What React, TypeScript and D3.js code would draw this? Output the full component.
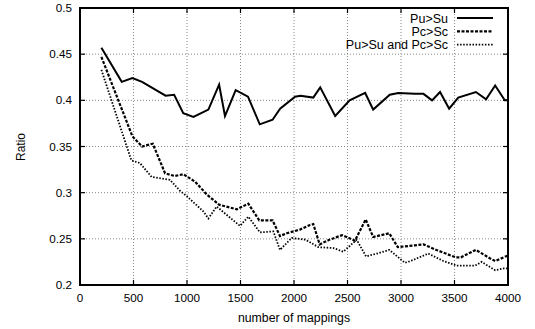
import React from "react";
import * as d3 from "d3";

// x = number of mappings, y = ratio
const puSu: [number, number][] = [
  [200, 0.457], [390, 0.42], [490, 0.424], [580, 0.42], [800, 0.405], [880, 0.406],
  [965, 0.386], [1060, 0.382], [1200, 0.39], [1300, 0.417], [1355, 0.383], [1455, 0.411],
  [1570, 0.404], [1680, 0.374], [1800, 0.379], [1870, 0.391], [2010, 0.404], [2060, 0.405],
  [2180, 0.403], [2245, 0.414], [2385, 0.383], [2520, 0.4], [2665, 0.408], [2740, 0.39],
  [2895, 0.406], [2975, 0.408], [3130, 0.407], [3210, 0.407], [3290, 0.4], [3365, 0.409],
  [3450, 0.391], [3535, 0.403], [3700, 0.409], [3795, 0.401], [3880, 0.416], [3970, 0.4],
  [4000, 0.4],
];

const pcSc: [number, number][] = [
  [200, 0.447], [490, 0.361], [580, 0.35], [680, 0.353], [795, 0.321], [885, 0.318],
  [965, 0.32], [1075, 0.312], [1185, 0.298], [1300, 0.287], [1465, 0.282], [1573, 0.288],
  [1675, 0.27], [1800, 0.27], [1869, 0.253], [1931, 0.256], [2056, 0.26], [2150, 0.265],
  [2180, 0.266], [2240, 0.244], [2330, 0.249], [2450, 0.254], [2570, 0.248], [2670, 0.271],
  [2740, 0.252], [2890, 0.256], [2970, 0.241], [3130, 0.243], [3210, 0.244], [3330, 0.238],
  [3510, 0.23], [3560, 0.23], [3700, 0.238], [3830, 0.229], [3880, 0.226], [3960, 0.23],
  [4000, 0.232],
];

const both: [number, number][] = [
  [200, 0.433], [480, 0.335], [560, 0.332], [670, 0.317], [780, 0.315], [840, 0.314],
  [935, 0.302], [1000, 0.296], [1150, 0.28], [1200, 0.272], [1277, 0.285], [1495, 0.264],
  [1573, 0.274], [1682, 0.257], [1807, 0.258], [1869, 0.238], [1978, 0.251], [2110, 0.249],
  [2227, 0.241], [2370, 0.24], [2460, 0.236], [2586, 0.249], [2673, 0.231], [2773, 0.234],
  [2891, 0.238], [3037, 0.224], [3090, 0.226], [3255, 0.234], [3396, 0.226], [3520, 0.221],
  [3692, 0.221], [3754, 0.225], [3880, 0.216], [3960, 0.218], [4000, 0.218],
];

const xTicks = [0, 500, 1000, 1500, 2000, 2500, 3000, 3500, 4000];
const yTicks = [0.2, 0.25, 0.3, 0.35, 0.4, 0.45, 0.5];
const seriesNames = ["Pu>Su", "Pc>Sc", "Pu>Su and Pc>Sc"];

const W = 535, H = 329;
const left = 80, right = 508, top = 8, bottom = 285;
const font = "'Liberation Sans', Arial, sans-serif";

export default function App() {
  const x = d3.scaleLinear().domain([0, 4000]).range([left, right]);
  const y = d3.scaleLinear().domain([0.2, 0.5]).range([bottom, top]);
  const line = d3.line<[number, number]>().x((d) => x(d[0])).y((d) => y(d[1]));

  const styles = [
    { data: puSu, width: 2, dash: undefined as string | undefined },
    { data: pcSc, width: 2.2, dash: "3,1.5" },
    { data: both, width: 1.8, dash: "1.5,1.6" },
  ];

  return (
    <svg width={W} height={H} style={{ position: "absolute", left: 0, top: 0, background: "#fff" }} fontFamily={font}>
      {/* grid */}
      {xTicks.slice(1, -1).map((t) => (
        <line key={"gx" + t} x1={x(t)} x2={x(t)} y1={top} y2={bottom} stroke="#888" strokeWidth={1} strokeDasharray="1,2" />
      ))}
      {yTicks.slice(1, -1).map((t) => (
        <line key={"gy" + t} x1={left} x2={right} y1={y(t)} y2={y(t)} stroke="#888" strokeWidth={1} strokeDasharray="1,2" />
      ))}

      {/* ticks */}
      {xTicks.map((t) => (
        <g key={"tx" + t}>
          <line x1={x(t)} x2={x(t)} y1={bottom} y2={bottom - 5} stroke="#000" strokeWidth={1.2} />
          <line x1={x(t)} x2={x(t)} y1={top} y2={top + 5} stroke="#000" strokeWidth={1.2} />
          <text x={x(t)} y={302} fontSize={11.7} textAnchor="middle">{t}</text>
        </g>
      ))}
      {yTicks.map((t) => (
        <g key={"ty" + t}>
          <line x1={left} x2={left + 5} y1={y(t)} y2={y(t)} stroke="#000" strokeWidth={1.2} />
          <line x1={right} x2={right - 5} y1={y(t)} y2={y(t)} stroke="#000" strokeWidth={1.2} />
          <text x={72} y={y(t) + 4} fontSize={11.7} textAnchor="end">{d3.format("")(t)}</text>
        </g>
      ))}

      {/* series */}
      {styles.map((s, i) => (
        <path key={"s" + i} d={line(s.data) ?? ""} fill="none" stroke="#000" strokeWidth={s.width} strokeDasharray={s.dash} strokeLinejoin="miter" />
      ))}

      {/* legend */}
      {seriesNames.map((n, i) => (
        <g key={"l" + i}>
          <text x={448} y={22.5 + i * 13.3} fontSize={12.5} textAnchor="end">{n}</text>
          <line x1={457} x2={493} y1={18 + i * 13.3} y2={18 + i * 13.3} stroke="#000" strokeWidth={styles[i].width} strokeDasharray={styles[i].dash} />
        </g>
      ))}

      {/* frame */}
      <rect x={left} y={top} width={right - left} height={bottom - top} fill="none" stroke="#000" strokeWidth={2} />

      <text x={294} y={322} fontSize={12.3} textAnchor="middle">number of mappings</text>
      <text transform={`translate(25,147) rotate(-90)`} fontSize={12} textAnchor="middle">Ratio</text>
    </svg>
  );
}
